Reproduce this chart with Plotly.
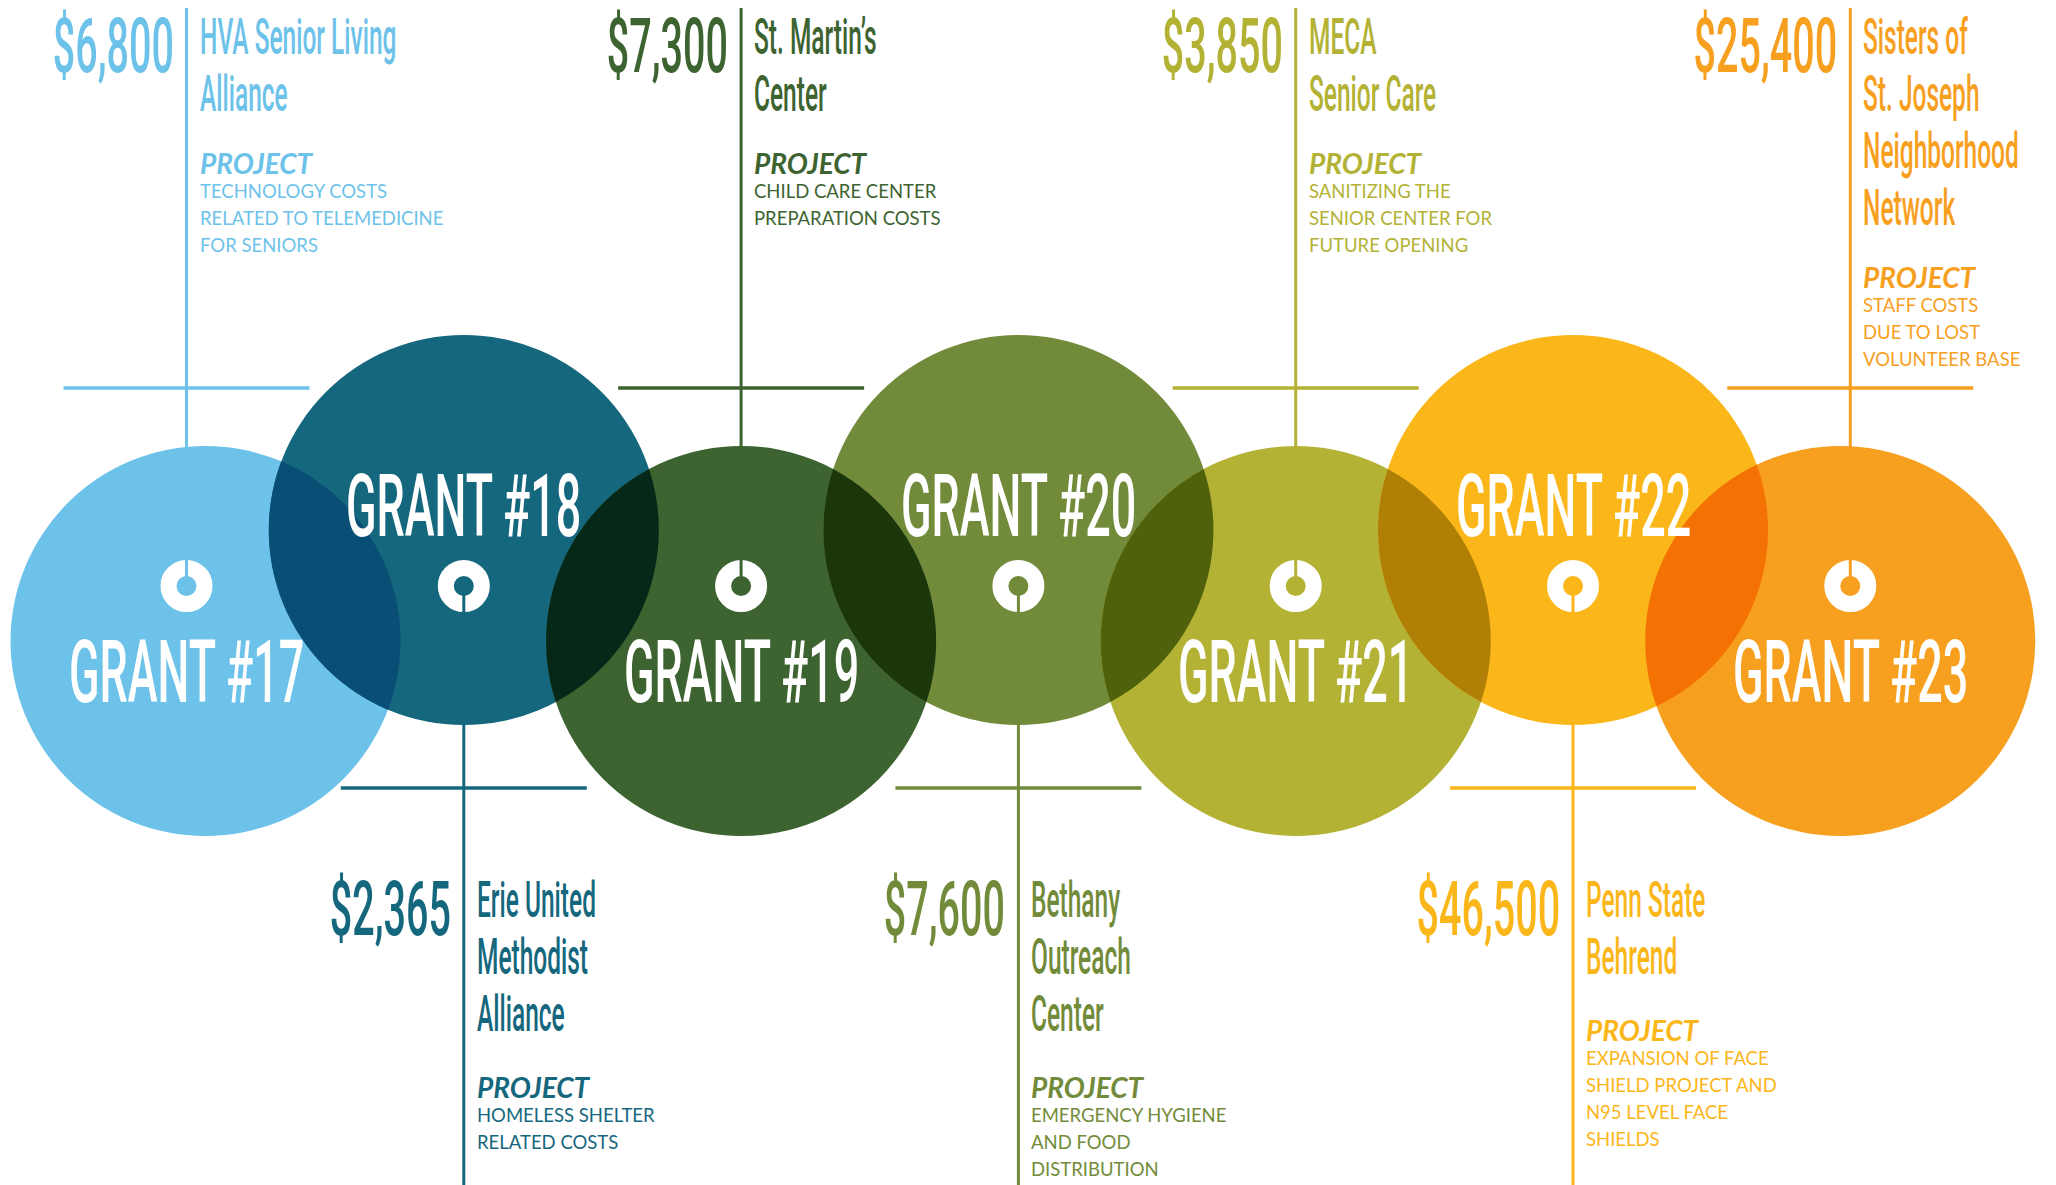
"""
Grant circles infographic recreated with Plotly
"""
import numpy as np
import plotly.graph_objects as go

W, H = 2056, 1185

# ---- data ----
grant_numbers = [17, 18, 19, 20, 21, 22, 23]
amounts = [6800, 2365, 7300, 7600, 3850, 46500, 25400]
organizations = [
    ["HVA Senior Living", "Alliance"],
    ["Erie United", "Methodist", "Alliance"],
    ["St. Martin’s", "Center"],
    ["Bethany", "Outreach", "Center"],
    ["MECA", "Senior Care"],
    ["Penn State", "Behrend"],
    ["Sisters of", "St. Joseph", "Neighborhood", "Network"],
]
projects = [
    ["TECHNOLOGY COSTS", "RELATED TO TELEMEDICINE", "FOR SENIORS"],
    ["HOMELESS SHELTER", "RELATED COSTS"],
    ["CHILD CARE CENTER", "PREPARATION COSTS"],
    ["EMERGENCY HYGIENE", "AND FOOD", "DISTRIBUTION"],
    ["SANITIZING THE", "SENIOR CENTER FOR", "FUTURE OPENING"],
    ["EXPANSION OF FACE", "SHIELD PROJECT AND", "N95 LEVEL FACE", "SHIELDS"],
    ["STAFF COSTS", "DUE TO LOST", "VOLUNTEER BASE"],
]
colors = ["#6DC2EA", "#15677E", "#3D6330", "#728B3A", "#B3B235", "#FBB619", "#F7A01F"]

# ---- layout constants ----
X0, STEP = 186.5, 277.3
R = 195
RING_Y = 586
ROW_Y = {0: 641, 1: 530}          # 0 = lower circles (text above), 1 = upper circles (text below)
LABEL_Y = {0: 671, 1: 505}
BAR_Y = {0: 388, 1: 788}
BAR_HALF = 123
BLOCK_Y0 = {0: 19, 1: 882}
PROJ_GAP = {0: 60, 1: 64}
CIRCLE_SHIFT = {0: 19, 6: -10}

COND = "Roboto, Liberation Sans, sans-serif"   # squeezed horizontally below
BODY = "Lato, Open Sans, sans-serif"
SQUEEZE = {"amount": 0.52, "grant": 0.51, "name": 0.49}

# no condensed font is installed: squeeze the gothic texts in the browser,
# and drop the default page margin so the figure sits at the page corner
SQUEEZE_JS = """
document.body.style.margin = '0';
var gd = document.getElementById('{plot_id}');
var anns = gd.layout.annotations;
gd.querySelectorAll('g.annotation').forEach(function (g) {
    var a = anns[+g.getAttribute('data-index')];
    var sx = parseFloat(a.name);
    if (!sx) return;
    var t = g.querySelector('text');
    var b = t.getBBox();
    var px = a.xanchor === 'right' ? b.x + b.width : (a.xanchor === 'left' ? b.x : b.x + b.width / 2);
    t.setAttribute('transform', 'translate(' + px + ',0) scale(' + sx + ',1) translate(' + (-px) + ',0)');
});
"""


def hex_rgb(c):
    c = c.lstrip("#")
    return [int(c[k:k + 2], 16) for k in (0, 2, 4)]


def multiply(c1, c2):
    a, b = hex_rgb(c1), hex_rgb(c2)
    return "rgb({},{},{})".format(*[round(x * y / 255) for x, y in zip(a, b)])


def lens_path(c1, c2, r):
    c1, c2 = np.array(c1, float), np.array(c2, float)
    d = np.linalg.norm(c2 - c1)
    phi = np.arctan2(*(c2 - c1)[::-1])
    alpha = np.arccos(d / 2 / r)
    t1 = np.linspace(phi - alpha, phi + alpha, 80)
    t2 = np.linspace(phi + np.pi - alpha, phi + np.pi + alpha, 80)
    pts = np.vstack([c1 + r * np.c_[np.cos(t1), np.sin(t1)],
                     c2 + r * np.c_[np.cos(t2), np.sin(t2)]])
    return "M" + "L".join(f"{x:.2f},{y:.2f}" for x, y in pts) + "Z"


ring_x = [X0 + STEP * i for i in range(len(grant_numbers))]
rows = [i % 2 for i in range(len(grant_numbers))]
centers = [(ring_x[i] + CIRCLE_SHIFT.get(i, 0), ROW_Y[rows[i]]) for i in range(len(grant_numbers))]

fig = go.Figure()
shapes = []
annotations = []

# circles
for (cx, cy), col in zip(centers, colors):
    shapes.append(dict(type="circle", xref="x", yref="y", layer="below",
                       x0=cx - R, x1=cx + R, y0=cy - R, y1=cy + R,
                       fillcolor=col, line=dict(width=0)))

# overlapping areas (multiply blend of neighbours)
for i in range(len(centers) - 1):
    shapes.append(dict(type="path", xref="x", yref="y", layer="below",
                       path=lens_path(centers[i], centers[i + 1], R),
                       fillcolor=multiply(colors[i], colors[i + 1]), line=dict(width=0)))

# white ring icons
fig.add_trace(go.Scatter(
    x=ring_x, y=[RING_Y] * len(ring_x), mode="markers",
    marker=dict(symbol="circle-open", size=36, color="white", line=dict(width=16, color="white")),
    hoverinfo="skip", showlegend=False
))

for i, (num, amt, org, proj, col) in enumerate(zip(grant_numbers, amounts, organizations, projects, colors)):
    lx = ring_x[i]
    row = rows[i]

    # connector lines
    if row == 0:
        y_a, y_b = 8, RING_Y
    else:
        y_a, y_b = RING_Y, H
    shapes.append(dict(type="line", xref="x", yref="y", layer="above",
                       x0=lx, x1=lx, y0=y_a, y1=y_b, line=dict(color=col, width=3)))
    shapes.append(dict(type="line", xref="x", yref="y", layer="above",
                       x0=lx - BAR_HALF, x1=lx + BAR_HALF, y0=BAR_Y[row], y1=BAR_Y[row],
                       line=dict(color=col, width=3.5)))

    # grant label inside circle
    annotations.append(dict(x=lx, y=LABEL_Y[row], text=f"GRANT #{num}", showarrow=False,
                            xanchor="center", yanchor="middle", name=str(SQUEEZE["grant"]),
                            font=dict(family=COND, size=88, color="white", weight=500)))

    y0 = BLOCK_Y0[row]
    # amount
    annotations.append(dict(x=lx - 11, y=y0 + 27, text=f"${amt:,}", showarrow=False,
                            xanchor="right", yanchor="middle", name=str(SQUEEZE["amount"]),
                            font=dict(family=COND, size=76, color=col, weight=500)))
    # organisation name
    for k, line in enumerate(org):
        annotations.append(dict(x=lx + 11, y=y0 + 18 + 57 * k, text=line, showarrow=False,
                                xanchor="left", yanchor="middle", name=str(SQUEEZE["name"]),
                                font=dict(family=COND, size=50, color=col, weight=500)))
    last_base = y0 + 36 + 57 * (len(org) - 1)
    proj_y = last_base + PROJ_GAP[row] - 9.5
    annotations.append(dict(x=lx + 11, y=proj_y, text="PROJECT", showarrow=False,
                            xanchor="left", yanchor="middle",
                            font=dict(family=BODY, size=28, color=col, weight=700, style="italic")))
    for j, line in enumerate(proj):
        annotations.append(dict(x=lx + 11, y=proj_y + 28.5 + 27 * j, text=line, showarrow=False,
                                xanchor="left", yanchor="middle",
                                font=dict(family=BODY, size=18.5, color=col)))

fig.update_layout(
    width=W, height=H,
    margin=dict(l=0, r=0, t=0, b=0),
    paper_bgcolor="white", plot_bgcolor="white",
    xaxis=dict(range=[0, W], visible=False, fixedrange=True),
    yaxis=dict(range=[H, 0], visible=False, fixedrange=True),
    shapes=shapes, annotations=annotations,
    showlegend=False,
)

fig.write_html("out.html", post_script=SQUEEZE_JS, config={"displayModeBar": False})
